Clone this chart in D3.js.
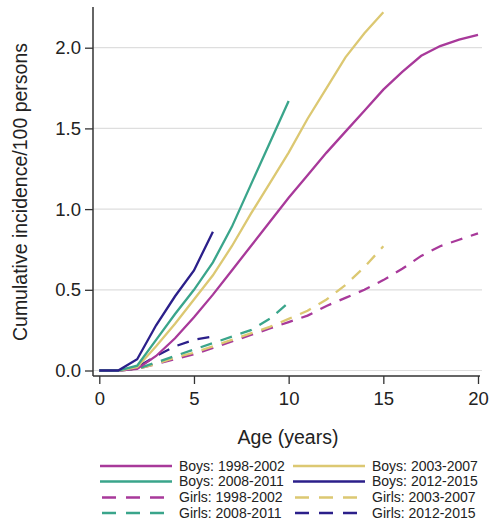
<!DOCTYPE html>
<html lang="en">
<head>
  <meta charset="UTF-8">
  <title>Cumulative incidence</title>
  <style>
    body { margin: 0; background: #fff; }
    svg { display: block; font-family: "Liberation Sans", Arial, sans-serif; }
  </style>
</head>
<body>
  <div id="chart"></div>

  <script src="https://d3js.org/d3.v7.min.js"></script>
  <script>
    // valores, um ponto por ano de idade
    const boys1998 = [0, 0, 0.01, 0.09, 0.2, 0.33, 0.47, 0.62, 0.77, 0.92, 1.07, 1.21, 1.35, 1.48, 1.61, 1.74, 1.85, 1.95, 2.01, 2.05, 2.08];
    const boys2003 = [0, 0, 0.02, 0.15, 0.29, 0.44, 0.59, 0.77, 0.97, 1.16, 1.35, 1.56, 1.75, 1.94, 2.09, 2.22];
    const boys2008 = [0, 0, 0.03, 0.19, 0.35, 0.5, 0.67, 0.89, 1.15, 1.41, 1.67];
    const boys2012 = [0, 0, 0.07, 0.28, 0.46, 0.62, 0.86];
    const girls1998 = [0, 0, 0.01, 0.04, 0.07, 0.1, 0.14, 0.18, 0.22, 0.26, 0.3, 0.34, 0.4, 0.45, 0.5, 0.56, 0.63, 0.71, 0.77, 0.81, 0.85];
    const girls2003 = [0, 0, 0.01, 0.04, 0.08, 0.11, 0.15, 0.19, 0.23, 0.27, 0.32, 0.37, 0.44, 0.53, 0.64, 0.77];
    const girls2008 = [0, 0, 0.01, 0.05, 0.09, 0.13, 0.17, 0.21, 0.25, 0.32, 0.42];
    const girls2012 = [0, 0, 0.02, 0.09, 0.15, 0.19, 0.21];

    const xTicks = [0, 5, 10, 15, 20];
    const yTicks = [0, 0.5, 1.0, 1.5, 2.0];

    const series = [
      { name: "Boys: 1998-2002", values: boys1998, color: "#a8399a", dashed: false },
      { name: "Boys: 2003-2007", values: boys2003, color: "#dcc872", dashed: false },
      { name: "Boys: 2008-2011", values: boys2008, color: "#3aa58b", dashed: false },
      { name: "Boys: 2012-2015", values: boys2012, color: "#2b1f8a", dashed: false },
      { name: "Girls: 1998-2002", values: girls1998, color: "#a8399a", dashed: true },
      { name: "Girls: 2003-2007", values: girls2003, color: "#dcc872", dashed: true },
      { name: "Girls: 2008-2011", values: girls2008, color: "#3aa58b", dashed: true },
      { name: "Girls: 2012-2015", values: girls2012, color: "#2b1f8a", dashed: true }
    ];

    const W = 491, H = 529;
    const svg = d3.select("#chart").append("svg")
      .attr("width", W)
      .attr("height", H);

    const x = d3.scaleLinear().domain([0, 20]).range([99.3, 478]);
    const y = d3.scaleLinear().domain([0, 2]).range([370.5, 47.7]);

    const axisLeftX = 93, axisBottomY = 376;

    // linhas de grade
    svg.append("g")
      .selectAll("line")
      .data(yTicks)
      .enter().append("line")
      .attr("x1", axisLeftX)
      .attr("x2", 482)
      .attr("y1", d => y(d))
      .attr("y2", d => y(d))
      .attr("stroke", "#dedede")
      .attr("stroke-width", 1.2);

    // eixos
    const yAxis = d3.axisLeft(y).tickValues(yTicks).tickFormat(d3.format(".1f")).tickSize(8).tickPadding(4);
    const xAxis = d3.axisBottom(x).tickValues(xTicks).tickFormat(d3.format("d")).tickSize(8).tickPadding(8);

    const gy = svg.append("g").attr("transform", `translate(${axisLeftX},0)`).call(yAxis);
    const gx = svg.append("g").attr("transform", `translate(0,${axisBottomY})`).call(xAxis);

    [gx, gy].forEach(g => {
      g.select(".domain").remove();
      g.selectAll(".tick line").attr("stroke", "#333").attr("stroke-width", 1.3);
      g.selectAll(".tick text").attr("fill", "#222").style("font-size", "18.5px");
    });

    svg.append("line")
      .attr("x1", axisLeftX).attr("x2", axisLeftX)
      .attr("y1", 7).attr("y2", axisBottomY)
      .attr("stroke", "#333").attr("stroke-width", 1.5);
    svg.append("line")
      .attr("x1", axisLeftX).attr("x2", 480)
      .attr("y1", axisBottomY).attr("y2", axisBottomY)
      .attr("stroke", "#333").attr("stroke-width", 1.5);

    // títulos dos eixos
    svg.append("text")
      .attr("transform", `translate(27,${192}) rotate(-90)`)
      .attr("text-anchor", "middle")
      .attr("fill", "#222")
      .style("font-size", "19.5px")
      .text("Cumulative incidence/100 persons");

    svg.append("text")
      .attr("x", 288)
      .attr("y", 444)
      .attr("text-anchor", "middle")
      .attr("fill", "#222")
      .style("font-size", "19.5px")
      .text("Age (years)");

    // curvas
    const line = d3.line()
      .x((d, i) => x(i))
      .y(d => y(d));

    // desenha as tracejadas primeiro, depois as sólidas
    const order = series.filter(s => s.dashed).concat(series.filter(s => !s.dashed));
    svg.append("g")
      .selectAll("path")
      .data(order)
      .enter().append("path")
      .attr("d", d => line(d.values))
      .attr("fill", "none")
      .attr("stroke", d => d.color)
      .attr("stroke-width", 2.3)
      .attr("stroke-dasharray", d => d.dashed ? "12,9" : null);

    // legenda em duas colunas
    const legend = svg.append("g");
    const colX = [100, 293];
    const rowY = [466, 481.5, 497.5, 513];

    series.forEach((s, i) => {
      const col = i % 2, row = Math.floor(i / 2);
      const gx0 = colX[col], gy0 = rowY[row];
      legend.append("line")
        .attr("x1", s.dashed ? gx0 + 2 : gx0)
        .attr("x2", gx0 + 72)
        .attr("y1", gy0).attr("y2", gy0)
        .attr("stroke", s.color)
        .attr("stroke-width", 2.4)
        .attr("stroke-dasharray", s.dashed ? "14,10" : null);
      legend.append("text")
        .attr("x", gx0 + 79)
        .attr("y", gy0)
        .attr("dy", "0.35em")
        .attr("fill", "#222")
        .style("font-size", "14px")
        .text(s.name);
    });
  </script>
</body>
</html>
